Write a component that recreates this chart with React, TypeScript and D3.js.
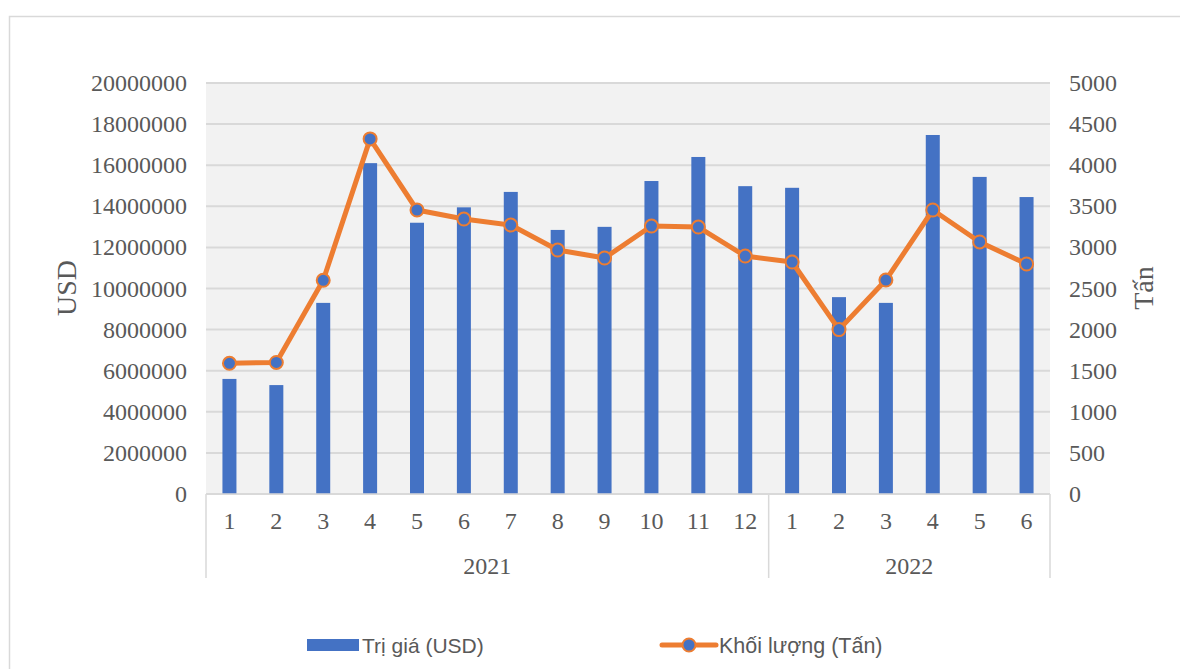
import React from "react";
import * as d3 from "d3";

const months = ["1","2","3","4","5","6","7","8","9","10","11","12","1","2","3","4","5","6"];
const years = ["2021","2022"];
const yearCounts = [12, 6];
const valueUSD = [5600000,5300000,9300000,16100000,13200000,13950000,14700000,12850000,13000000,15230000,16400000,14980000,14900000,9580000,9300000,17470000,15430000,14450000];
const volumeTon = [1590,1600,2600,4320,3455,3345,3272,2968,2871,3260,3248,2895,2822,2000,2603,3455,3066,2798];
const leftTicks = [0,2000000,4000000,6000000,8000000,10000000,12000000,14000000,16000000,18000000,20000000];
const rightTicks = [0,500,1000,1500,2000,2500,3000,3500,4000,4500,5000];

const W = 1180, H = 669;
const PL = 206, PR = 1050, PT = 83, PB = 494;
const serif = "'Liberation Serif', 'Times New Roman', serif";
const sans = "'Liberation Sans', Arial, sans-serif";
const txt = "#595959";

export default function App() {
  const idx = months.map((_, i) => i);
  const x = d3.scaleBand<number>().domain(idx).range([PL, PR]).paddingInner(0).paddingOuter(0);
  const yL = d3.scaleLinear().domain([0, 20000000]).range([PB, PT]);
  const yR = d3.scaleLinear().domain([0, 5000]).range([PB, PT]);
  const bw = 14;
  const cx = (i: number) => (x(i) as number) + x.bandwidth() / 2;
  const line = d3.line<number>().x((_, i) => cx(i)).y(d => yR(d));

  let acc = 0;
  const groups = yearCounts.map((c, gi) => {
    const start = acc; acc += c;
    return { label: years[gi], x0: x(start) as number, x1: (x(acc - 1) as number) + x.bandwidth() };
  });

  return (
    <svg width={W} height={H} style={{ position: "absolute", left: 0, top: 0, background: "#fff" }}>
      <rect x={9.5} y={16.5} width={1200} height={700} fill="#fff" stroke="#d9d9d9" strokeWidth={1.5} />
      <rect x={PL} y={PT} width={PR - PL} height={PB - PT} fill="#f2f2f2" />
      {leftTicks.map(t => (
        <line key={t} x1={PL} x2={PR} y1={yL(t)} y2={yL(t)} stroke="#d9d9d9" strokeWidth={2} />
      ))}
      {valueUSD.map((v, i) => (
        <rect key={i} x={cx(i) - bw / 2} y={yL(v)} width={bw} height={PB - yL(v)} fill="#4472c4" />
      ))}
      <path d={line(volumeTon) || ""} fill="none" stroke="#ed7d31" strokeWidth={5} strokeLinejoin="round" />
      {volumeTon.map((v, i) => (
        <circle key={i} cx={cx(i)} cy={yR(v)} r={6.5} fill="#4472c4" stroke="#ed7d31" strokeWidth={2} />
      ))}
      {/* category axis */}
      <line x1={PL} x2={PR} y1={PB} y2={PB} stroke="#d9d9d9" strokeWidth={1.5} />
      {[PL, groups[0].x1, PR].map((xx, i) => (
        <line key={i} x1={xx} x2={xx} y1={PB} y2={578} stroke="#d9d9d9" strokeWidth={1.5} />
      ))}
      {months.map((m, i) => (
        <text key={i} x={cx(i)} y={529} textAnchor="middle" fontFamily={serif} fontSize={24} fill={txt}>{m}</text>
      ))}
      {groups.map(g => (
        <text key={g.label} x={(g.x0 + g.x1) / 2} y={574} textAnchor="middle" fontFamily={serif} fontSize={24} fill={txt}>{g.label}</text>
      ))}
      {leftTicks.map(t => (
        <text key={t} x={187} y={yL(t) + 8} textAnchor="end" fontFamily={serif} fontSize={24} fill={txt}>{t}</text>
      ))}
      {rightTicks.map(t => (
        <text key={t} x={1069} y={yR(t) + 8} textAnchor="start" fontFamily={serif} fontSize={24} fill={txt}>{t}</text>
      ))}
      <text transform={`translate(76,288) rotate(-90)`} textAnchor="middle" fontFamily={serif} fontSize={28} fill={txt}>USD</text>
      <text transform={`translate(1153,288) rotate(-90)`} textAnchor="middle" fontFamily={serif} fontSize={28} fill={txt}>Tấn</text>
      {/* legend */}
      <rect x={307} y={639} width={52} height={12} fill="#4472c4" />
      <text x={362} y={653} fontFamily={sans} fontSize={21} fill={txt}>Trị giá (USD)</text>
      <line x1={662} x2={716} y1={645} y2={645} stroke="#ed7d31" strokeWidth={5} strokeLinecap="round" />
      <circle cx={689} cy={645} r={6.5} fill="#4472c4" stroke="#ed7d31" strokeWidth={2} />
      <text x={719} y={653} fontFamily={sans} fontSize={21.5} fill={txt}>Khối lượng (Tấn)</text>
    </svg>
  );
}
